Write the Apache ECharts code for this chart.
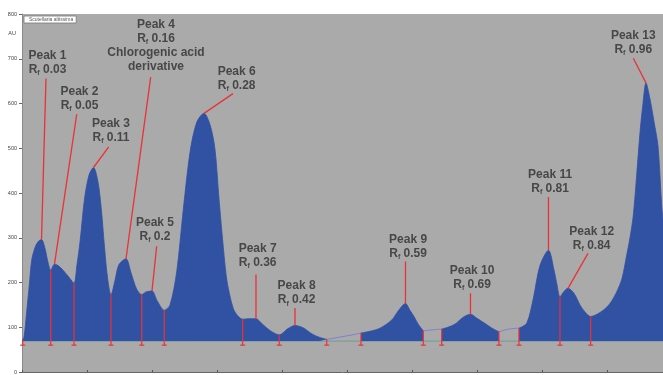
<!DOCTYPE html>
<html>
<head>
<meta charset="utf-8">
<script src="https://cdn.jsdelivr.net/npm/echarts@6/dist/echarts.min.js"></script>
<style>
  html, body { margin: 0; padding: 0; background: #ffffff; }
  #chart { width: 663px; height: 375px; }
</style>
</head>
<body>
<div id="chart"></div>
<script>
// Densitogram of the track: retention factor (Rf) against absorbance (AU)
const rf = [
  0, 0.0031, 0.0072, 0.0112, 0.0149, 0.02, 0.0246, 0.03, 0.0354, 0.04, 0.0442,
  0.0473, 0.05, 0.0554, 0.0635, 0.0738, 0.08,
  0.0846, 0.0892, 0.0962, 0.1031, 0.11, 0.1169, 0.1223, 0.1269, 0.1315, 0.1369,
  0.1431, 0.1492, 0.16, 0.1677, 0.1765, 0.1842,
  0.1908, 0.2, 0.2077, 0.2189,
  0.2277, 0.238, 0.2482, 0.2585, 0.2688, 0.28, 0.2892, 0.2969, 0.3031, 0.3085,
  0.3138, 0.3174, 0.3251, 0.3323, 0.3395,
  0.3492, 0.36, 0.3692, 0.3815, 0.3958,
  0.4092, 0.42, 0.4323, 0.4462, 0.4585, 0.4688,
  0.4892, 0.5046, 0.5215,
  0.5354, 0.5508, 0.5688, 0.5785, 0.59, 0.5969, 0.6031, 0.61, 0.6174,
  0.6308, 0.6457,
  0.6554, 0.6662, 0.6785, 0.69, 0.7, 0.7108, 0.7231, 0.7338,
  0.7492, 0.7646,
  0.7765, 0.7866, 0.7969, 0.81, 0.8185, 0.8231, 0.8277,
  0.8338, 0.84, 0.8492, 0.8585, 0.8662, 0.8749,
  0.8846, 0.8943, 0.9046, 0.9149, 0.9231, 0.9303, 0.9354, 0.9405, 0.9457,
  0.9508, 0.9554, 0.96, 0.9662, 0.9723, 0.9785, 0.9842, 0.9862
];
const au = [
  69, 78, 135, 194, 250, 278, 291, 296, 276, 245, 227,
  236, 241, 238, 227, 209, 198,
  240, 290, 387, 440, 457, 425, 360, 280, 212, 172,
  205, 240, 253, 222, 185, 173,
  179, 181, 160, 138,
  150, 224, 364, 491, 558, 578, 553, 498, 387, 298,
  220, 187, 142, 125, 118,
  119, 119, 108, 93, 83,
  97, 104, 99, 85, 77, 73,
  78, 82, 87,
  91, 98, 116, 136, 153, 138, 124, 106, 92,
  94, 96,
  100, 107, 122, 129, 120, 110, 98, 90,
  96, 98,
  109, 164, 238, 272, 228, 195, 168,
  180, 187, 176, 150, 134, 124,
  129, 138, 153, 179, 209, 261, 300, 350, 440,
  535, 600, 646, 610, 560, 505, 372, 340
];
const baselineAU = 69;

// Stretches that were not integrated (left unfilled)
const gaps = [[0.4688, 0.5215], [0.6174, 0.6457], [0.7338, 0.7646]];

// Integration boundaries
const boundaries = [0.0011, 0.0442, 0.08, 0.1369, 0.1842, 0.2189, 0.3395, 0.3958,
  0.4688, 0.5215, 0.6174, 0.6457, 0.7338, 0.7646, 0.8277, 0.8749];

// Peaks
const peakNames = ['Peak 1', 'Peak 2', 'Peak 3', 'Peak 4', 'Peak 5', 'Peak 6', 'Peak 7',
  'Peak 8', 'Peak 9', 'Peak 10', 'Peak 11', 'Peak 12', 'Peak 13'];
const peakRf = [0.03, 0.05, 0.11, 0.16, 0.2, 0.28, 0.36, 0.42, 0.59, 0.69, 0.81, 0.84, 0.96];
const peakAU = [296, 241, 457, 253, 181, 578, 119, 104, 153, 129, 272, 187, 646];
const peakNotes = ['', '', '', 'Chlorogenic acid\nderivative', '', '', '', '', '', '', '', '', ''];

const seriesName = 'Scutellaria altissima';

// Layout: where each annotation sits (text bottom-centre) and where its pointer starts
const labelAt = [[0.0392, 660], [0.0885, 580], [0.1369, 509], [0.2062, 667], [0.2046, 287],
  [0.3303, 624], [0.3626, 229], [0.4225, 145], [0.594, 249], [0.6925, 180], [0.8125, 394],
  [0.8765, 267], [0.9405, 704]];
const pointerFrom = [[0.0369, 656], [0.0842, 576], [0.1334, 503], [0.198, 659], [0.2072, 281],
  [0.3246, 622], [0.36, 218], [0.42, 143], [0.59, 247], [0.69, 176], [0.81, 391],
  [0.8708, 265], [0.9405, 701]];

const BLUE = '#3152a2';
const RED = '#ec3136';
const SMOOTH = 0.3;

function curveAt(x) {
  for (let i = 1; i < rf.length; i++) {
    if (x <= rf[i]) {
      const t = (x - rf[i - 1]) / (rf[i] - rf[i - 1]);
      return au[i - 1] + t * (au[i] - au[i - 1]);
    }
  }
  return au[au.length - 1];
}
function inGap(x) {
  return gaps.some(g => x > g[0] && x < g[1]);
}

const filled = rf.map((x, i) => [x, inGap(x) ? '-' : au[i]]);
const gapLine = [];
gaps.forEach(g => {
  rf.forEach((x, i) => { if (x >= g[0] && x <= g[1]) gapLine.push([x, au[i]]); });
  gapLine.push([g[1] + 0.001, '-']);
});

const chart = echarts.init(document.getElementById('chart'));

const FONT = 'Liberation Sans, Arial, sans-serif';
const textRich = {
  b: { fontFamily: FONT, fontSize: 12, fontWeight: 'bold', color: '#2e2e2e', lineHeight: 14 },
  f: { fontFamily: FONT, fontSize: 7, fontWeight: 'bold', color: '#2e2e2e', lineHeight: 14,
       verticalAlign: 'bottom', padding: [6, 0, 0, 0] }
};

chart.setOption({
  animation: false,
  backgroundColor: '#ffffff',
  grid: { left: 22, right: 0, top: 14, bottom: 1, show: true,
          backgroundColor: '#aaaaaa', borderWidth: 0 },
  legend: {
    data: [{ name: seriesName, icon: 'none' }],
    left: 24, top: 16, itemWidth: 0, itemHeight: 0, itemGap: 0,
    padding: [1, 3, 1, 0], backgroundColor: '#ffffff', borderColor: '#777777',
    borderWidth: 0.8, borderRadius: 0, selectedMode: false,
    textStyle: { fontSize: 5, color: '#555555', fontFamily: FONT }
  },
  xAxis: {
    type: 'value', min: 0, max: 0.9862, interval: 0.1,
    axisLine: { show: true, lineStyle: { color: '#666666', width: 1 } },
    axisTick: { show: true, inside: true, length: 2, lineStyle: { color: '#555555' } },
    axisLabel: { show: false },
    splitLine: { show: false }
  },
  yAxis: {
    type: 'value', min: 0, max: 800, interval: 100,
    name: 'AU', nameLocation: 'end', nameGap: -22,
    nameTextStyle: { fontSize: 5.5, color: '#444444', align: 'right', padding: [0, 6, 0, 0],
                     fontFamily: FONT },
    axisLine: { show: true, lineStyle: { color: '#8a8a8a', width: 1 } },
    axisTick: { show: true, length: 3, lineStyle: { color: '#666666' } },
    axisLabel: { fontSize: 5.5, color: '#444444', margin: 5, fontFamily: FONT },
    splitLine: { show: false }
  },
  series: [
    {
      type: 'line', name: 'baseline', silent: true, z: 1,
      data: [[0, baselineAU], [0.9862, baselineAU]],
      showSymbol: false, lineStyle: { color: '#6e9c98', width: 1 }
    },
    {
      type: 'line', name: seriesName, z: 2,
      data: filled, showSymbol: false, connectNulls: false, smooth: SMOOTH,
      lineStyle: { color: BLUE, width: 0.8 },
      areaStyle: { color: BLUE, opacity: 1, origin: baselineAU }
    },
    {
      type: 'line', name: 'unintegrated', z: 3, silent: true,
      data: gapLine, showSymbol: false, connectNulls: false, smooth: SMOOTH,
      lineStyle: { color: '#7d7fd8', width: 1 }
    },
    {
      type: 'custom', name: 'boundaries', z: 4, silent: true,
      data: boundaries.map(x => [x, curveAt(x)]),
      renderItem: (params, api) => {
        const top = api.coord([api.value(0), api.value(1)]);
        const bot = api.coord([api.value(0), 60]);
        return {
          type: 'group',
          children: [
            { type: 'line', shape: { x1: top[0], y1: top[1], x2: bot[0], y2: bot[1] },
              style: { stroke: RED, lineWidth: 1.2 } },
            { type: 'line', shape: { x1: bot[0] - 2.5, y1: bot[1], x2: bot[0] + 2.5, y2: bot[1] },
              style: { stroke: RED, lineWidth: 1.2 } }
          ]
        };
      }
    },
    {
      type: 'custom', name: 'pointers', z: 5, silent: true,
      data: peakRf.map((x, i) => [pointerFrom[i][0], pointerFrom[i][1], x, peakAU[i]]),
      renderItem: (params, api) => {
        const a = api.coord([api.value(0), api.value(1)]);
        const b = api.coord([api.value(2), api.value(3)]);
        return { type: 'line', shape: { x1: a[0], y1: a[1], x2: b[0], y2: b[1] },
                 style: { stroke: RED, lineWidth: 1.3 } };
      }
    },
    {
      type: 'scatter', name: 'labels', z: 6, silent: true,
      symbolSize: 0,
      data: labelAt.map((p, i) => ({ value: p, name: peakNames[i] })),
      label: {
        show: true, position: 'top', distance: 0, align: 'center',
        formatter: p => {
          const i = p.dataIndex;
          let s = '{b|' + peakNames[i] + '}\n{b|R}{f|f}{b| ' + peakRf[i] + '}';
          if (peakNotes[i]) s += '\n' + peakNotes[i].split('\n').map(t => '{b|' + t + '}').join('\n');
          return s;
        },
        rich: textRich
      }
    }
  ]
});
</script>
</body>
</html>
